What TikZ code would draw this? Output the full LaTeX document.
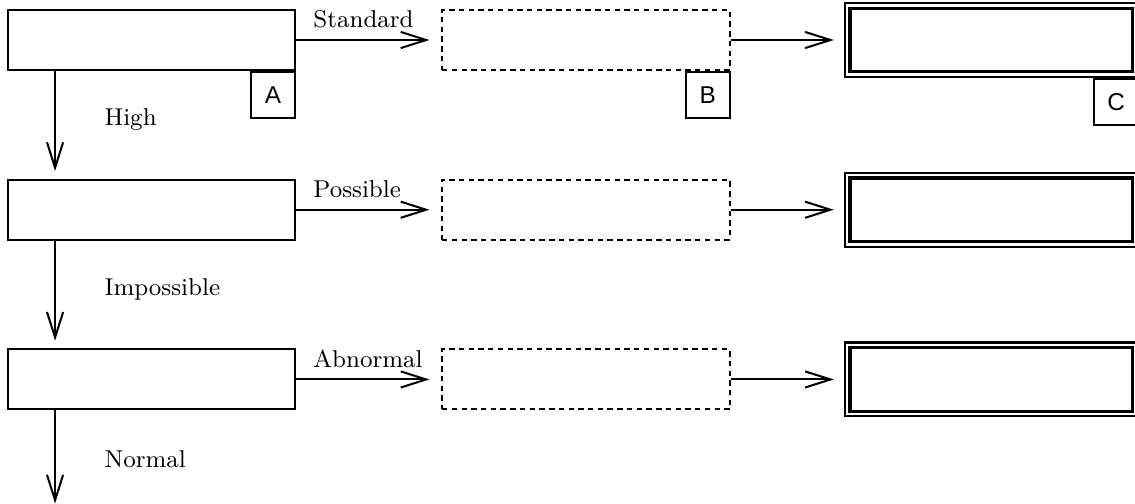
\documentclass[tikz,border=0pt]{standalone}
\usepackage{fontspec}
\newfontfamily\tagfont{Liberation Sans}
\usetikzlibrary{positioning, arrows.meta}
\tikzset{
  stage/.style = {rectangle, draw, line width=0.75pt, inner sep=0pt,
                  minimum width=3.73cm, minimum height=0.78cm},
  pend/.style  = {rectangle, draw, line width=0.75pt, inner sep=0pt,
                  dash pattern=on 2pt off 1.6pt,
                  minimum width=3.74cm, minimum height=0.78cm},
  final/.style = {rectangle, draw, line width=0.8pt, inner sep=0pt,
                  minimum width=3.81cm, minimum height=0.96cm},
  tag/.style   = {rectangle, draw, line width=0.75pt, inner sep=0pt, anchor=north east,
                  minimum width=0.57cm, minimum height=0.6cm, font=\tagfont\small},
  lbl/.style   = {anchor=west, inner sep=0pt, font=\small},
  ar/.style    = {-{Straight Barb[length=3.3mm,width=2.1mm]}, line width=0.75pt},
}

\begin{document}
\begin{tikzpicture}[node distance=1.4cm and 1.885cm]
  \useasboundingbox (0,0) rectangle (14.755,-6.539);

  % decision column
  \node[stage] (s1) at (1.97,-0.52) {};
  \node[stage, below=of s1] (s2) {};
  \node[stage, below=of s2] (s3) {};

  % pending and final columns
  \node[pend, right=of s1] (p1) {};
  \node[pend, right=of s2] (p2) {};
  \node[pend, right=of s3] (p3) {};
  \node[final, right=1.47cm of p1] (f1) {};
  \node[final, right=1.47cm of p2] (f2) {};
  \node[final, right=1.47cm of p3] (f3) {};
  \foreach \n in {f1,f2,f3}
    \draw[line width=1.2pt] ([shift={(2.3pt,-2.3pt)}]\n.north west)
      rectangle ([shift={(-2.3pt,2.3pt)}]\n.south east);

  \node[tag] (ta) at (s1.south east) {A};
  \node[tag] (tb) at (p1.south east) {B};
  \node[tag] (tc) at (f1.south east) {C};

  % horizontal flow
  \foreach \i in {1,2,3} {
    \draw[ar, shorten >=0.15cm] (s\i) -- (p\i);
    \draw[ar, shorten >=0.13cm] (p\i) -- (f\i);
  }
  \node[lbl] (l1) at ([xshift=0.22cm, yshift=0.27cm]s1.east) {Standard};
  \node[lbl] (l2) at ([xshift=0.22cm, yshift=0.27cm]s2.east) {Possible};
  \node[lbl] (l3) at ([xshift=0.22cm, yshift=0.27cm]s3.east) {Abnormal};

  % vertical flow
  \coordinate (out) at ([xshift=0.624cm, yshift=-1.21cm]s3.south west);
  \draw[ar, shorten >=0.1cm] ([xshift=0.624cm]s1.south west) -- ([xshift=0.624cm]s2.north west);
  \draw[ar, shorten >=0.1cm] ([xshift=0.624cm]s2.south west) -- ([xshift=0.624cm]s3.north west);
  \draw[ar] ([xshift=0.624cm]s3.south west) -- (out);
  \node[lbl] (d1) at ([xshift=1.26cm, yshift=-0.63cm]s1.south west) {High};
  \node[lbl] (d2) at ([xshift=1.26cm, yshift=-0.63cm]s2.south west) {Impossible};
  \node[lbl] (d3) at ([xshift=1.26cm, yshift=-0.63cm]s3.south west) {Normal};
\end{tikzpicture}
\end{document}
